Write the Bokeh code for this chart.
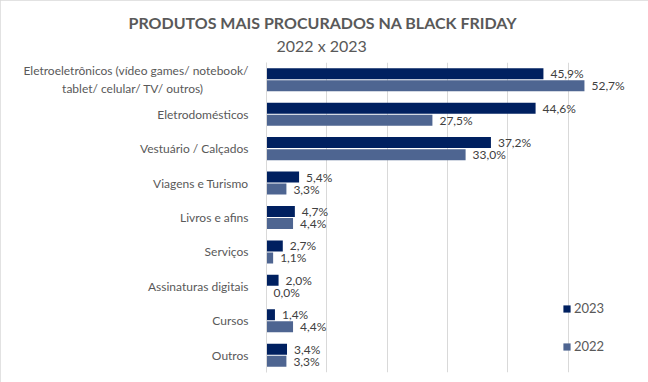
from bokeh.plotting import figure
from bokeh.models import ColumnDataSource, FactorRange, Title, Legend, LegendItem, FixedTicker
from bokeh.transform import dodge
from bokeh.core.properties import value
from bokeh.embed import file_html
from bokeh.resources import INLINE

PAD = "\u2002" * 7 + "\u00a0"
categories = [
    "Eletroeletrônicos (vídeo games/ notebook/\ntablet/ celular/ TV/ outros)" + PAD,
    "Eletrodomésticos",
    "Vestuário / Calçados",
    "Viagens e Turismo",
    "Livros e afins",
    "Serviços",
    "Assinaturas digitais",
    "Cursos",
    "Outros",
]
v2023 = [45.9, 44.6, 37.2, 5.4, 4.7, 2.7, 2.0, 1.4, 3.4]
v2022 = [52.7, 27.5, 33.0, 3.3, 4.4, 1.1, 0.0, 4.4, 3.3]
title_text = "PRODUTOS MAIS PROCURADOS NA BLACK FRIDAY"
subtitle_text = "2022 x 2023"
grid_ticks = [0, 10, 20, 30, 40, 50, 60]

FONT = "Lato"
C2023 = "#002060"
C2022 = "#4E6591"
TXT = "#595959"

def fmt(v):
    return f"{v:.1f}".replace(".", ",") + "%"

src = ColumnDataSource(dict(
    cat=categories, v2023=v2023, v2022=v2022,
    l2023=[fmt(v) for v in v2023], l2022=[fmt(v) for v in v2022],
))

p = figure(width=648, height=382, output_backend="svg", toolbar_location=None,
           y_range=FactorRange(factors=list(reversed(categories))),
           x_range=(0, 60),
           min_border_left=266, min_border_right=20, min_border_top=62, min_border_bottom=10,
           styles={"outline": "1px solid #D9D9D9", "outline-offset": "-1px"})

r23 = p.hbar(y=dodge("cat", 0.175, range=p.y_range), right="v2023", height=0.32,
             source=src, color=C2023, line_color=None)
r22 = p.hbar(y=dodge("cat", -0.175, range=p.y_range), right="v2022", height=0.32,
             source=src, color=C2022, line_color=None)

for off, xcol, lcol in [(0.175, "v2023", "l2023"), (-0.175, "v2022", "l2022")]:
    p.text(x=xcol, y=dodge("cat", off, range=p.y_range), text=lcol, source=src,
           x_offset=7, text_baseline="middle", text_align="left",
           text_font=value(FONT), text_font_size="12px", text_color="#404040")

p.xaxis.visible = False
p.xgrid.ticker = FixedTicker(ticks=grid_ticks)
p.xgrid.grid_line_color = "#D9D9D9"
p.ygrid.grid_line_color = None
p.outline_line_color = None

p.yaxis.axis_line_color = "#D9D9D9"
p.yaxis.major_tick_line_color = None
p.yaxis.minor_tick_line_color = None
p.yaxis.major_label_standoff = 12
p.yaxis.major_label_text_font = FONT
p.yaxis.major_label_text_font_size = "12px"
p.yaxis.major_label_text_color = TXT

p.title.visible = False
p.add_layout(Title(text=" ", text_font_size="4px", standoff=0), "above")
p.add_layout(Title(text=subtitle_text, align="left", offset=10, text_font=FONT,
                   text_font_size="16px", text_font_style="normal", text_color=TXT,
                   standoff=2), "above")
p.add_layout(Title(text=title_text, align="left", offset=-138, text_font=FONT,
                   text_font_size="16px", text_font_style="bold", text_color=TXT,
                   standoff=2), "above")

legend = Legend(items=[LegendItem(label="2023", renderers=[r23]),
                       LegendItem(label="2022", renderers=[r22])],
                location=(296, 18), orientation="vertical",
                glyph_width=9, glyph_height=9, label_height=14, spacing=22,
                label_standoff=3, padding=0, margin=0,
                border_line_color=None, background_fill_alpha=0,
                label_text_font=FONT, label_text_font_size="13px", label_text_color=TXT)
p.add_layout(legend)

open("out.html", "w").write(file_html(p, INLINE))
